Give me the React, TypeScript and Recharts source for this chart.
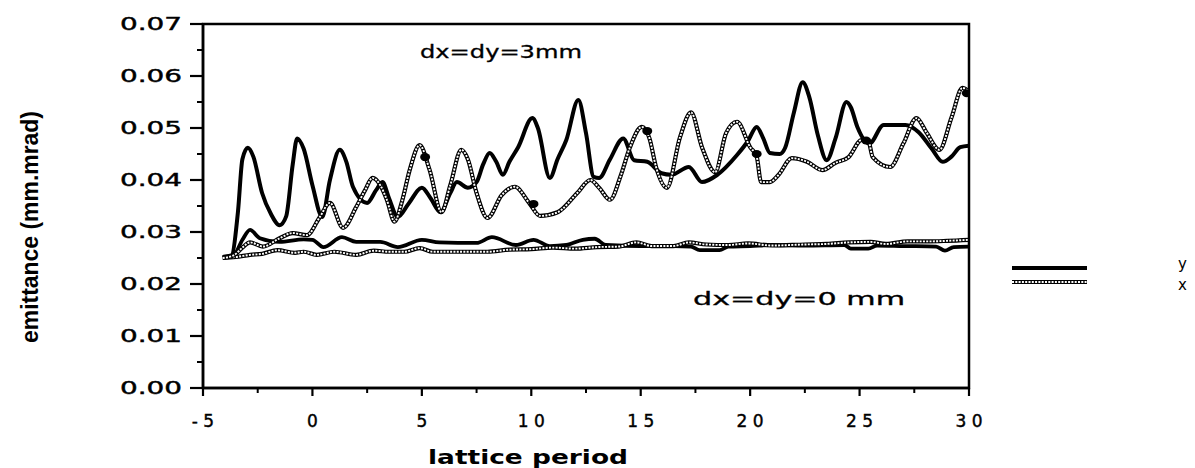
import React from 'react';
import { ComposedChart, Line, XAxis, YAxis, ReferenceArea } from 'recharts';

// lattice period (x) vs emittance (v)
const y3mm = [
  [-4.1, 0.0252], [-3.7, 0.0255], [-3.4, 0.034], [-3.2, 0.044], [-2.95, 0.0462], [-2.7, 0.0445],
  [-2.3, 0.0375], [-1.9, 0.0335], [-1.5, 0.0313], [-1.2, 0.033], [-0.9, 0.043], [-0.7, 0.048],
  [-0.4, 0.046], [0.0, 0.039], [0.45, 0.0329], [0.8, 0.04], [1.25, 0.0458], [1.55, 0.0435],
  [1.85, 0.0387], [2.5, 0.0356], [2.9, 0.038], [3.2, 0.0396], [3.5, 0.0365], [3.9, 0.0329],
  [4.4, 0.0355], [5.0, 0.0385], [5.4, 0.0365], [5.85, 0.0338], [6.3, 0.0375], [6.6, 0.0396],
  [7.1, 0.0385], [7.5, 0.0396], [7.8, 0.043], [8.1, 0.0452], [8.4, 0.0435], [8.7, 0.041],
  [9.0, 0.0435], [9.4, 0.0463], [10.05, 0.0519], [10.3, 0.05], [10.85, 0.0404], [11.2, 0.044],
  [11.6, 0.0477], [12.15, 0.0554], [12.5, 0.049], [12.85, 0.0406], [13.1, 0.0404], [13.6, 0.044],
  [14.2, 0.048], [14.7, 0.0438], [15.3, 0.0435], [15.95, 0.0413], [16.4, 0.041], [17.2, 0.0425],
  [17.8, 0.0396], [18.5, 0.041], [19.4, 0.0448], [19.9, 0.0475], [20.3, 0.0502], [20.6, 0.048],
  [20.9, 0.0452], [21.35, 0.045], [21.6, 0.0462], [22.0, 0.053], [22.4, 0.0588], [22.7, 0.056],
  [23.1, 0.0485], [23.5, 0.0438], [23.9, 0.048], [24.4, 0.055], [24.6, 0.054], [24.9, 0.0502],
  [25.45, 0.047], [26.1, 0.0506], [27.1, 0.0506], [27.7, 0.0492], [28.3, 0.046], [28.8, 0.0435],
  [29.2, 0.0445], [29.6, 0.0463], [30.0, 0.0466],
];

const x3mm = [
  [-4.1, 0.025], [-3.6, 0.0255], [-3.2, 0.027], [-2.85, 0.028], [-2.26, 0.0272], [-1.5, 0.0288],
  [-0.9, 0.0298], [-0.25, 0.0294], [0.34, 0.0329], [0.8, 0.0356], [1.4, 0.0308], [2.0, 0.0348],
  [2.4, 0.038], [2.75, 0.0404], [3.1, 0.039], [3.4, 0.0362], [3.75, 0.032], [4.1, 0.036],
  [4.45, 0.042], [4.9, 0.0467], [5.35, 0.042], [5.9, 0.0338], [6.3, 0.039], [6.8, 0.0458],
  [7.1, 0.044], [7.5, 0.0375], [8.0, 0.0327], [8.65, 0.0371], [9.25, 0.0387], [9.9, 0.0356],
  [10.4, 0.0331], [11.2, 0.0338], [12.1, 0.0375], [12.7, 0.04], [13.1, 0.0385], [13.6, 0.0362],
  [14.1, 0.041], [14.5, 0.0462], [15.05, 0.0502], [15.4, 0.048], [15.7, 0.0425], [16.2, 0.0385],
  [16.8, 0.0483], [17.3, 0.053], [17.8, 0.0463], [18.4, 0.0415], [18.9, 0.049], [19.4, 0.0512],
  [20.0, 0.0463], [20.3, 0.0445], [20.5, 0.0396], [20.9, 0.0396], [21.3, 0.041], [21.9, 0.0442],
  [22.6, 0.0435], [23.3, 0.0419], [23.9, 0.0433], [24.5, 0.0444], [25.1, 0.0477], [25.4, 0.0475],
  [25.6, 0.0444], [26.4, 0.0425], [27.0, 0.047], [27.6, 0.0519], [28.05, 0.0492], [28.65, 0.0458],
  [29.2, 0.052], [29.7, 0.0577], [30.0, 0.057],
];

const y0mm = [
  [-4.1, 0.0252], [-3.6, 0.0255], [-3.2, 0.0285], [-2.85, 0.0304], [-2.4, 0.0288], [-1.5, 0.0281],
  [-0.4, 0.0286], [0.0, 0.0285], [0.5, 0.0271], [1.35, 0.029], [2.0, 0.0281], [3.1, 0.0281],
  [3.9, 0.0271], [5.0, 0.0285], [5.8, 0.028], [7.5, 0.0279], [8.2, 0.029], [9.3, 0.0275],
  [10.1, 0.0285], [10.85, 0.0273], [11.6, 0.0275], [12.35, 0.0285], [12.9, 0.0287], [13.4, 0.0275],
  [15.0, 0.0273], [16.5, 0.0273], [17.3, 0.0272], [17.7, 0.0265], [18.6, 0.0265], [19.0, 0.0272],
  [20.0, 0.0273], [21.0, 0.0275], [22.5, 0.0274], [24.3, 0.0275], [24.6, 0.0268], [25.4, 0.0268],
  [25.8, 0.0274], [27.0, 0.0273], [28.5, 0.0272], [28.9, 0.0264], [29.3, 0.0271], [30.0, 0.0272],
];

const x0mm = [
  [-4.1, 0.025], [-3.5, 0.0252], [-2.85, 0.0256], [-2.3, 0.0258], [-1.6, 0.0265], [-0.8, 0.026],
  [-0.4, 0.0262], [0.2, 0.0256], [1.0, 0.0262], [2.0, 0.0256], [2.8, 0.0264], [3.5, 0.0262],
  [4.2, 0.0262], [4.9, 0.0269], [5.5, 0.0262], [7.0, 0.0262], [8.0, 0.0262], [9.0, 0.0266],
  [10.0, 0.0267], [11.0, 0.027], [12.0, 0.0268], [13.0, 0.0271], [14.0, 0.0272], [14.8, 0.028],
  [15.5, 0.0273], [16.5, 0.0273], [17.2, 0.028], [18.0, 0.0276], [19.0, 0.0275], [19.9, 0.0278],
  [21.0, 0.0274], [22.5, 0.0276], [23.5, 0.0277], [24.5, 0.028], [25.5, 0.0281], [26.2, 0.0277],
  [27.2, 0.0282], [28.2, 0.0282], [29.0, 0.0283], [30.0, 0.0285],
];

const markers = [
  [5.15, 0.0444], [10.1, 0.0354], [15.3, 0.0494], [20.3, 0.045], [25.3, 0.0476], [29.9, 0.0567],
];

const xMajorTicks = [-5, 0, 5, 10, 15, 20, 25, 30];
const xTickLabels = ['- 5', '0', '5', '1 0', '1 5', '2 0', '2 5', '3 0'];
const xMinorTicks = [-2.5, 2.5, 7.5, 12.5, 17.5, 22.5, 27.5];
const yMajorTicks = [0, 0.01, 0.02, 0.03, 0.04, 0.05, 0.06, 0.07];
const yTickLabels = ['0.00', '0.01', '0.02', '0.03', '0.04', '0.05', '0.06', '0.07'];
const yMinorTicks = [0.005, 0.015, 0.025, 0.035, 0.045, 0.055, 0.065];

const legendItems = ['y', 'x'];

const toRows = (arr: number[][]) => arr.map(([x, v]) => ({ x, v }));

const FONT = '"DejaVu Sans", sans-serif';

const XTick = (props: any) => {
  const { x, y, payload } = props;
  const idx = xMajorTicks.findIndex((m) => Math.abs(m - payload.value) < 1e-9);
  if (idx < 0) {
    return <line x1={x} x2={x} y1={y} y2={y + 5} stroke="#000" strokeWidth={2} />;
  }
  return (
    <g>
      <line x1={x} x2={x} y1={y} y2={y + 8} stroke="#000" strokeWidth={2.2} />
      <text x={x} y={y + 33} dy="0.35em" textAnchor="middle" fontFamily={FONT} fontSize={17} fill="#000" stroke="#000" strokeWidth={0.4}>
        {xTickLabels[idx]}
      </text>
    </g>
  );
};

const YTick = (props: any) => {
  const { x, y, payload } = props;
  const idx = yMajorTicks.findIndex((m) => Math.abs(m - payload.value) < 1e-9);
  if (idx < 0) {
    return <line x1={x - 6} x2={x} y1={y} y2={y} stroke="#000" strokeWidth={2} />;
  }
  return (
    <g>
      <line x1={x - 13} x2={x} y1={y} y2={y} stroke="#000" strokeWidth={2.2} />
      <text
        x={x - 83}
        y={y}
        dy="0.35em"
        textLength={62}
        lengthAdjust="spacingAndGlyphs"
        fontFamily={FONT}
        fontSize={17}
        fill="#000"
        stroke="#000"
        strokeWidth={0.4}
      >
        {yTickLabels[idx]}
      </text>
    </g>
  );
};

const MarkerDot = (props: any) => {
  const { cx, cy } = props;
  if (cx == null || cy == null) return null;
  return <ellipse cx={cx} cy={cy} rx={5} ry={4} fill="#000" />;
};

export default function App() {
  const xTicks = [...xMajorTicks, ...xMinorTicks].sort((a, b) => a - b);
  const yTicks = [...yMajorTicks, ...yMinorTicks].sort((a, b) => a - b);
  const hollow = (data: number[][], key: string) => [
    <Line key={key + 'o'} data={toRows(data)} dataKey="v" type="monotone" stroke="#000" strokeWidth={4.2} dot={false} isAnimationActive={false} />,
    <Line key={key + 'i'} data={toRows(data)} dataKey="v" type="monotone" stroke="#fff" strokeWidth={1.9} strokeDasharray="2 1.3" dot={false} isAnimationActive={false} />,
  ];
  return (
    <div style={{ position: 'absolute', left: 0, top: 0, width: 1195, height: 468, background: '#fff' }}>
      <ComposedChart width={1195} height={468} margin={{ top: 24, right: 226, bottom: 50, left: 143 }}>
        <XAxis
          type="number"
          dataKey="x"
          domain={[-5, 30]}
          ticks={xTicks}
          interval={0}
          tickSize={0}
          tickMargin={0}
          tick={<XTick />}
          axisLine={{ stroke: '#000', strokeWidth: 2.5 }}
          height={30}
          allowDataOverflow
        />
        <YAxis
          type="number"
          dataKey="v"
          domain={[0, 0.07]}
          ticks={yTicks}
          interval={0}
          tickSize={0}
          tickMargin={0}
          tick={<YTick />}
          axisLine={{ stroke: '#000', strokeWidth: 2.5 }}
          width={60}
          allowDataOverflow
        />
        <ReferenceArea x1={-5} x2={30} y1={0} y2={0.07} fill="none" stroke="#000" strokeWidth={2.5} fillOpacity={0} />
        <Line data={toRows(y0mm)} dataKey="v" type="monotone" stroke="#000" strokeWidth={3.8} dot={false} isAnimationActive={false} />
        <Line data={toRows(y3mm)} dataKey="v" type="monotone" stroke="#000" strokeWidth={4} dot={false} isAnimationActive={false} />
        {hollow(x0mm, 'x0')}
        {hollow(x3mm, 'x3')}
        <Line data={toRows(markers)} dataKey="v" stroke="none" dot={<MarkerDot />} activeDot={false} isAnimationActive={false} />
      </ComposedChart>
      <svg width={1195} height={468} style={{ position: 'absolute', left: 0, top: 0, pointerEvents: 'none' }}>
        <text
          transform="translate(30,227) rotate(-90)"
          x={-116}
          y={0}
          dy="0.35em"
          textLength={232}
          lengthAdjust="spacingAndGlyphs"
          fontFamily='"Liberation Sans Narrow", "Liberation Sans", sans-serif'
          fontWeight="bold"
          fontSize={24}
          fill="#000"
        >
          emittance (mm.mrad)
        </text>
        <text x={428} y={457} dy="0.35em" textLength={200} lengthAdjust="spacingAndGlyphs" fontFamily={FONT} fontWeight="bold" fontSize={20} fill="#000">
          lattice period
        </text>
        <text x={420} y={52} dy="0.35em" textLength={162} lengthAdjust="spacingAndGlyphs" fontFamily={FONT} fontSize={17} fill="#000" stroke="#000" strokeWidth={0.3}>
          dx=dy=3mm
        </text>
        <text x={693} y={299} dy="0.35em" textLength={212} lengthAdjust="spacingAndGlyphs" fontFamily={FONT} fontSize={17} fill="#000" stroke="#000" strokeWidth={0.3}>
          dx=dy=0 mm
        </text>
        <line x1={1012} x2={1087} y1={268} y2={268} stroke="#000" strokeWidth={4} />
        <text x={1178} y={264} dy="0.35em" fontFamily={FONT} fontSize={15} fill="#000">{legendItems[0]}</text>
        <line x1={1012} x2={1087} y1={282} y2={282} stroke="#000" strokeWidth={4.2} />
        <line x1={1012} x2={1087} y1={282} y2={282} stroke="#fff" strokeWidth={1.9} strokeDasharray="2 1.3" />
        <text x={1178} y={285} dy="0.35em" fontFamily={FONT} fontSize={15} fill="#000">{legendItems[1]}</text>
      </svg>
    </div>
  );
}
